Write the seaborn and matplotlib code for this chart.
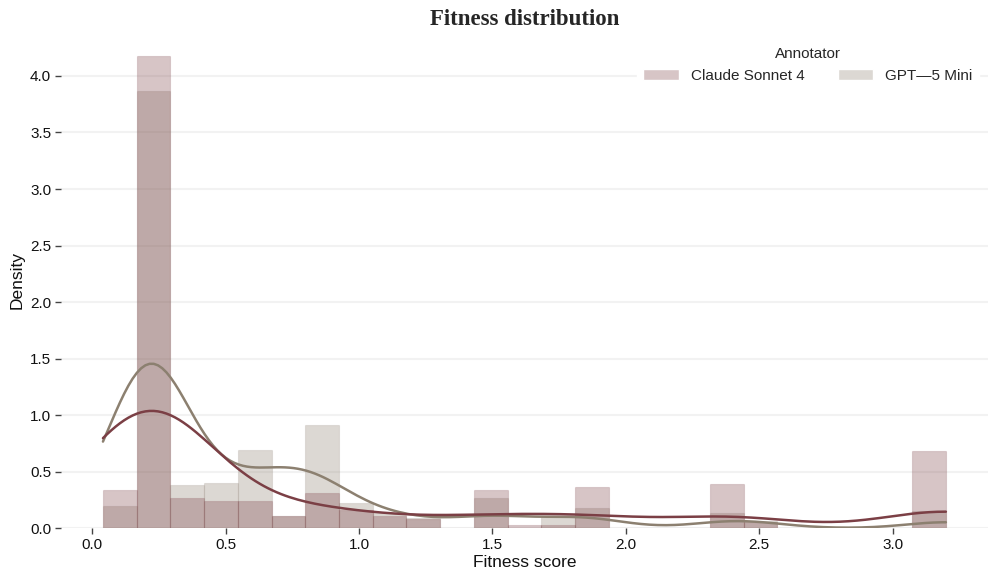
import numpy as np
import pandas as pd
import matplotlib
matplotlib.use("Agg")
import matplotlib.pyplot as plt
import seaborn as sns

# fitness scores (one value per occupied bin) and how often each annotator gave it
annotators = ["Claude Sonnet 4", "GPT\u20145 Mini"]
score_values = [0.04, 0.21, 0.356, 0.482, 0.62, 0.76, 0.815, 0.988, 1.115,
                1.241, 1.494, 1.621, 1.747, 1.874, 2.380, 2.507, 3.20]
claude_counts = [13, 159, 10, 9, 9, 4, 12, 6, 4, 3, 13, 1, 1, 14, 15, 2, 26]
gpt_counts = [9, 174, 17, 18, 31, 5, 41, 10, 6, 4, 12, 0, 5, 8, 6, 3, 7]
line_colors = ["#7b3f45", "#8c8070"]

df = pd.DataFrame({
    "Fitness score": np.concatenate([np.repeat(score_values, claude_counts),
                                     np.repeat(score_values, gpt_counts)]),
    "Annotator": [annotators[0]] * sum(claude_counts) + [annotators[1]] * sum(gpt_counts),
})

sns.set_theme(style="white")
plt.rcParams["font.family"] = ["Liberation Sans", "DejaVu Sans"]

fig, ax = plt.subplots(figsize=(9.97, 5.83), dpi=100)
sns.histplot(data=df, x="Fitness score", hue="Annotator", hue_order=annotators,
             bins=25, stat="density", common_norm=False, kde=True,
             kde_kws={"bw_adjust": 0.76},
             palette=line_colors, alpha=0.3, line_kws={"linewidth": 1.8}, ax=ax)

# bar edges only slightly darker than the fill
for p in ax.patches:
    fc = p.get_facecolor()
    p.set_edgecolor((fc[0], fc[1], fc[2], 0.18))
    p.set_linewidth(0.8)

ax.yaxis.grid(True, color="#f2f2f2", linewidth=1.5)
ax.xaxis.grid(False)
ax.set_axisbelow(True)
sns.despine(ax=ax, left=True, bottom=True)
ax.tick_params(axis="both", bottom=True, left=True, length=4, width=1,
               color="#444444", labelsize=11, labelcolor="#111111", pad=3)
ax.set_xlabel("Fitness score", fontsize=12.5, color="#111111", labelpad=2)
ax.set_ylabel("Density", fontsize=12.5, color="#111111", labelpad=4)
ax.set_xticks([0.0, 0.5, 1.0, 1.5, 2.0, 2.5, 3.0])
ax.set_yticks([0.0, 0.5, 1.0, 1.5, 2.0, 2.5, 3.0, 3.5, 4.0])
ax.set_title("Fitness distribution", family=["Liberation Serif", "DejaVu Serif"],
             fontweight="bold", fontsize=16.5, pad=5)

sns.move_legend(ax, "upper right", ncol=2, title="Annotator", fontsize=11,
                title_fontsize=11, frameon=True, facecolor="white",
                edgecolor="white", framealpha=1, handlelength=2.3,
                handletextpad=0.8, columnspacing=2.2, borderaxespad=0.6)

plt.subplots_adjust(left=0.061, right=0.991, bottom=0.094, top=0.945)
plt.savefig("out.png", dpi=100)
